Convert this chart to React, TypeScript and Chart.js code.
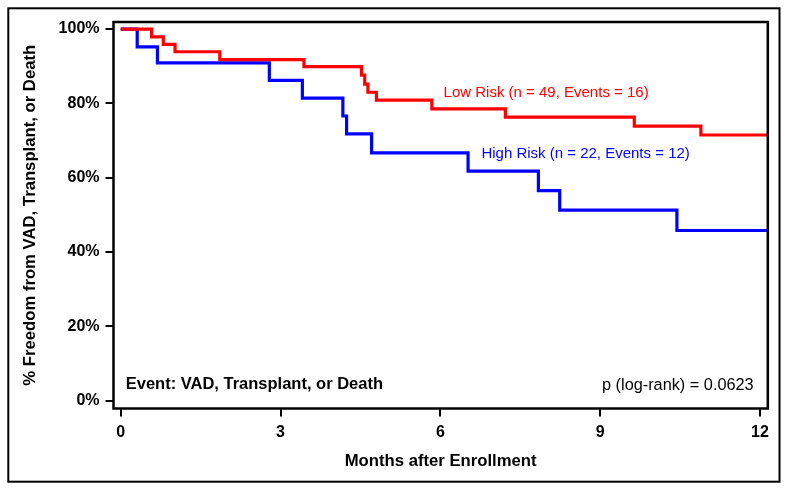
import React, { useEffect, useRef } from 'react';
import { Chart, registerables } from 'chart.js';

Chart.register(...registerables);

// Kaplan-Meier step data (months, % event-free)
const LOW_RISK_MONTHS = [0, 0.58, 0.8, 1.02, 1.86, 3.44, 4.52, 4.58, 4.64, 4.8, 5.84, 7.22, 9.64, 10.89, 12.15];
const LOW_RISK_SURVIVAL = [100, 97.9, 95.9, 93.9, 91.8, 89.9, 87.6, 85.2, 83.0, 80.9, 78.5, 76.3, 73.9, 71.5, 71.5];
const HIGH_RISK_MONTHS = [0, 0.31, 0.69, 2.79, 3.41, 4.17, 4.24, 4.71, 6.52, 7.84, 8.24, 10.44, 12.15];
const HIGH_RISK_SURVIVAL = [100, 95.2, 90.9, 86.2, 81.4, 76.6, 71.8, 66.7, 61.8, 56.5, 51.3, 45.8, 45.8];

const X_TICKS = [0, 3, 6, 9, 12];
const Y_TICKS = [0, 20, 40, 60, 80, 100];

const SERIES_LABELS = ['Low Risk (n = 49, Events = 16)', 'High Risk (n = 22, Events = 12)'];
const EVENT_NOTE = 'Event: VAD, Transplant, or Death';
const P_NOTE = 'p (log-rank) = 0.0623';
const X_TITLE = 'Months after Enrollment';
const Y_TITLE = '% Freedom from VAD, Transplant, or Death';

const FONT = "'Liberation Sans', Arial, Helvetica, sans-serif";
const RED = '#ff0000';
const BLUE = '#0000ff';

const framePlugin = {
  id: 'frameAndNotes',
  afterDatasetsDraw(chart: any) {
    const { ctx, chartArea, scales } = chart;
    const xs = scales.x;
    const ys = scales.y;
    ctx.save();
    // plot frame
    ctx.strokeStyle = '#000';
    ctx.lineWidth = 2.5;
    ctx.strokeRect(chartArea.left, chartArea.top, chartArea.right - chartArea.left, chartArea.bottom - chartArea.top);
    // outer frame
    ctx.lineWidth = 2;
    ctx.strokeRect(8.3, 8.3, 779.5 - 8.3, 481.7 - 8.3);

    ctx.textBaseline = 'middle';
    ctx.textAlign = 'left';
    ctx.font = `15px ${FONT}`;
    ctx.fillStyle = RED;
    ctx.fillText(SERIES_LABELS[0], xs.getPixelForValue(6.06), ys.getPixelForValue(82.9));
    ctx.fillStyle = BLUE;
    ctx.fillText(SERIES_LABELS[1], xs.getPixelForValue(6.77), ys.getPixelForValue(66.5));

    ctx.fillStyle = '#000';
    ctx.font = `bold 16.5px ${FONT}`;
    ctx.fillText(EVENT_NOTE, xs.getPixelForValue(0.094), ys.getPixelForValue(4.3));
    ctx.textAlign = 'right';
    ctx.font = `16.3px ${FONT}`;
    ctx.fillText(P_NOTE, xs.getPixelForValue(11.88), ys.getPixelForValue(4.1));
    ctx.restore();
  },
};

export default function App() {
  const canvasRef = useRef<HTMLCanvasElement | null>(null);

  useEffect(() => {
    const canvas = canvasRef.current;
    if (!canvas) return;
    const toPoints = (xs: number[], ys: number[]) => xs.map((x, i) => ({ x, y: ys[i] }));
    const tickFont = { family: FONT, size: 16, weight: 'bold' as const };
    const titleFont = { family: FONT, size: 16.7, weight: 'bold' as const };
    const chart = new Chart(canvas, {
      type: 'line',
      data: {
        datasets: [
          {
            label: SERIES_LABELS[0],
            data: toPoints(LOW_RISK_MONTHS, LOW_RISK_SURVIVAL),
            borderColor: RED,
            borderWidth: 3.2,
            stepped: 'before',
            pointRadius: 0,
            fill: false,
          },
          {
            label: SERIES_LABELS[1],
            data: toPoints(HIGH_RISK_MONTHS, HIGH_RISK_SURVIVAL),
            borderColor: BLUE,
            borderWidth: 3.2,
            stepped: 'before',
            pointRadius: 0,
            fill: false,
          },
        ],
      },
      options: {
        animation: false,
        responsive: false,
        layout: { padding: { left: 0, top: 22, right: 21.2, bottom: 0 } },
        plugins: { legend: { display: false }, tooltip: { enabled: false } },
        scales: {
          x: {
            type: 'linear',
            min: -0.135,
            max: 12.146,
            afterBuildTicks: (s: any) => { s.ticks = X_TICKS.map((v) => ({ value: v })); },
            afterFit: (s: any) => { s.height = 82.5; },
            border: { display: false },
            grid: { drawOnChartArea: false, drawTicks: true, tickLength: 8, lineWidth: 2, color: '#000' },
            ticks: { font: tickFont, color: '#000', padding: 6, maxRotation: 0, autoSkip: false, callback: (v: any) => String(v) },
            title: { display: true, text: X_TITLE, color: '#000', font: titleFont, padding: { top: 0, bottom: 20 } },
          },
          y: {
            type: 'linear',
            min: -2.1,
            max: 101.9,
            afterBuildTicks: (s: any) => { s.ticks = Y_TICKS.map((v) => ({ value: v })); },
            afterFit: (s: any) => { s.width = 113.5; },
            border: { display: false },
            grid: { drawOnChartArea: false, drawTicks: true, tickLength: 8, lineWidth: 2, color: '#000' },
            ticks: { font: tickFont, color: '#000', padding: 6, autoSkip: false, callback: (v: any) => `${v}%` },
            title: { display: true, text: Y_TITLE, color: '#000', font: titleFont, padding: { top: 20.5, bottom: 0 } },
          },
        },
      },
      plugins: [framePlugin],
    });
    return () => chart.destroy();
  }, []);

  return (
    <div style={{ position: 'fixed', left: 0, top: 0, width: 789, height: 491, background: '#fff' }}>
      <canvas ref={canvasRef} width={789} height={491} style={{ display: 'block' }} />
    </div>
  );
}
